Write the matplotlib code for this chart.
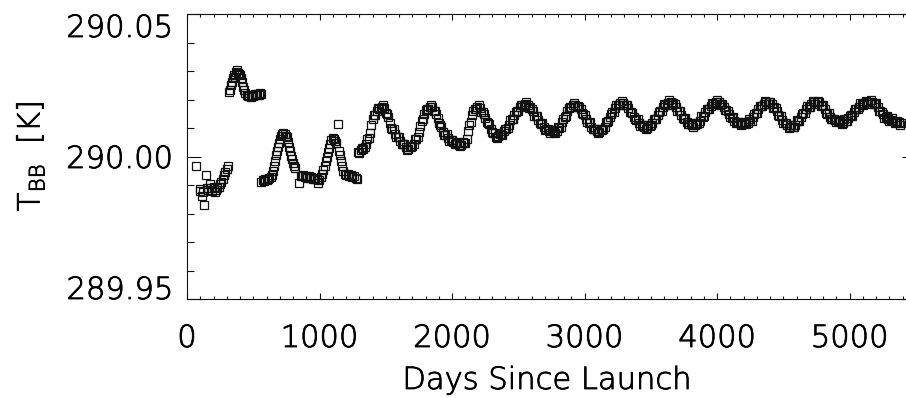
import matplotlib
matplotlib.use("Agg")
import matplotlib.pyplot as plt
import matplotlib.patheffects as pe
from matplotlib.ticker import MultipleLocator

plt.rcParams['font.family'] = ['DejaVu Sans']
plt.rcParams['mathtext.fontset'] = 'custom'
plt.rcParams['mathtext.rm'] = 'DejaVu Sans:light'

# --- blackbody temperature vs days since launch ---
# early part, before the seasonal cycle settles
days_a = [68, 95, 100, 110, 120, 130, 140, 150, 160, 170, 180, 190, 200, 210, 220,
          230, 240, 250, 260, 270, 280, 290, 300, 310]
temp_a = [289.9968, 289.9885, 289.9880, 289.9862, 289.9875, 289.9830, 289.9935, 289.9890,
          289.9882, 289.9905, 289.9888, 289.9878, 289.9892, 289.9877, 289.9884, 289.9890,
          289.9893, 289.9905, 289.9912, 289.9920, 289.9935, 289.9945, 289.9955, 289.9965]

days_b = [318, 325, 332, 340, 348, 355, 362, 370, 378, 385, 392, 400, 408, 416, 424,
          432, 440, 450, 460, 470, 480, 490, 500, 510, 520, 530, 540, 550, 558]
temp_b = [290.0225, 290.0232, 290.0250, 290.0262, 290.0275, 290.0285, 290.0280, 290.0296,
          290.0302, 290.0292, 290.0288, 290.0285, 290.0275, 290.0262, 290.0245, 290.0232,
          290.0222, 290.0215, 290.0212, 290.0214, 290.0210, 290.0216, 290.0213, 290.0218,
          290.0215, 290.0220, 290.0217, 290.0222, 290.0220]

days_c = [562, 572, 582, 592, 602, 612, 622, 632, 640, 648, 656, 664, 672, 680, 688,
          696, 704, 712, 720, 728, 736, 744, 752, 760, 768, 776, 784, 792, 800, 808, 816]
temp_c = [289.9912, 289.9918, 289.9915, 289.9920, 289.9918, 289.9922, 289.9925, 289.9928,
          289.9935, 289.9950, 289.9968, 289.9985, 290.0005, 290.0020, 290.0035, 290.0048,
          290.0060, 290.0072, 290.0080, 290.0083, 290.0078, 290.0072, 290.0068, 290.0050,
          290.0032, 290.0018, 290.0003, 289.9990, 289.9978, 289.9965, 289.9958]

days_d = [848, 858, 868, 878, 888, 898, 908, 918, 928, 938, 948, 958, 968, 978, 988,
          998, 1008, 1018, 1028, 1038, 1048, 1058, 1066, 1074, 1082, 1090, 1098, 1106,
          1114, 1122, 1136, 1146, 1154, 1160, 1168, 1178, 1190, 1200, 1212, 1224, 1236,
          1248, 1260, 1272, 1282]
temp_d = [289.9908, 289.9932, 289.9930, 289.9935, 289.9928, 289.9932, 289.9926, 289.9930,
          289.9925, 289.9928, 289.9922, 289.9925, 289.9920, 289.9922, 289.9906, 289.9918,
          289.9928, 289.9940, 289.9952, 289.9968, 289.9985, 290.0000, 290.0015, 290.0030,
          290.0045, 290.0058, 290.0064, 290.0060, 290.0055, 290.0048, 290.0114, 290.0020,
          290.0004, 289.9985, 289.9965, 289.9948, 289.9940, 289.9935, 289.9938, 289.9930,
          289.9935, 289.9928, 289.9932, 289.9925, 289.9922]

# regular annual cycle
days_e = [1290, 1310, 1330, 1350, 1370, 1390, 1410, 1430, 1450, 1470, 1490, 1510, 1530,
          1550, 1570, 1590, 1610, 1630, 1650, 1670, 1690, 1710, 1730, 1750, 1770, 1790,
          1810, 1830, 1850, 1870, 1890, 1910, 1930, 1950, 1970, 1990, 2010, 2030, 2050,
          2070, 2090, 2110, 2130, 2150, 2170, 2190, 2210, 2230, 2250, 2270, 2290, 2310,
          2330, 2350, 2370, 2390, 2410, 2430, 2450, 2470, 2490, 2510, 2530, 2550, 2570,
          2590, 2610, 2630, 2650, 2670, 2690, 2710, 2730, 2750, 2770, 2790, 2810, 2830,
          2850, 2870, 2890, 2910, 2930, 2950, 2970, 2990, 3010, 3030, 3050, 3070, 3090,
          3110, 3130, 3150, 3170, 3190, 3210, 3230, 3250, 3270, 3290, 3310, 3330, 3350,
          3370, 3390, 3410, 3430, 3450, 3470, 3490, 3510, 3530, 3550, 3570, 3590, 3610,
          3630, 3650, 3670, 3690, 3710, 3730, 3750, 3770, 3790, 3810, 3830, 3850, 3870,
          3890, 3910, 3930, 3950, 3970, 3990, 4010, 4030, 4050, 4070, 4090, 4110, 4130,
          4150, 4170, 4190, 4210, 4230, 4250, 4270, 4290, 4310, 4330, 4350, 4370, 4390,
          4410, 4430, 4450, 4470, 4490, 4510, 4530, 4550, 4570, 4590, 4610, 4630, 4650,
          4670, 4690, 4710, 4730, 4750, 4770, 4790, 4810, 4830, 4850, 4870, 4890, 4910,
          4930, 4950, 4970, 4990, 5010, 5030, 5050, 5070, 5090, 5110, 5130, 5150, 5170,
          5190, 5210, 5230, 5250, 5270, 5290, 5310, 5330, 5350, 5370, 5390]
temp_e = [290.0015, 290.0022, 290.0028, 290.0045, 290.0065, 290.0110, 290.0145, 290.0160,
          290.0168, 290.0175, 290.0170, 290.0150, 290.0118, 290.0098, 290.0080, 290.0068,
          290.0055, 290.0045, 290.0035, 290.0025, 290.0035, 290.0045, 290.0060, 290.0085,
          290.0125, 290.0150, 290.0165, 290.0175, 290.0172, 290.0158, 290.0135, 290.0110,
          290.0085, 290.0075, 290.0065, 290.0058, 290.0052, 290.0048, 290.0042, 290.0040,
          290.0048, 290.0060, 290.0110, 290.0145, 290.0165, 290.0175, 290.0170, 290.0155,
          290.0135, 290.0118, 290.0098, 290.0082, 290.0068, 290.0072, 290.0080, 290.0088,
          290.0095, 290.0110, 290.0130, 290.0145, 290.0160, 290.0172, 290.0180, 290.0184,
          290.0182, 290.0172, 290.0158, 290.0142, 290.0128, 290.0115, 290.0102, 290.0095,
          290.0090, 290.0088, 290.0086, 290.0090, 290.0100, 290.0120, 290.0140, 290.0158,
          290.0172, 290.0180, 290.0182, 290.0176, 290.0165, 290.0150, 290.0132, 290.0118,
          290.0105, 290.0098, 290.0090, 290.0085, 290.0092, 290.0105, 290.0120, 290.0138,
          290.0155, 290.0170, 290.0180, 290.0186, 290.0188, 290.0182, 290.0170, 290.0155,
          290.0140, 290.0128, 290.0118, 290.0110, 290.0105, 290.0100, 290.0108, 290.0118,
          290.0130, 290.0145, 290.0160, 290.0174, 290.0182, 290.0188, 290.0190, 290.0186,
          290.0175, 290.0160, 290.0145, 290.0130, 290.0122, 290.0115, 290.0112, 290.0110,
          290.0115, 290.0125, 290.0140, 290.0155, 290.0168, 290.0178, 290.0185, 290.0190,
          290.0190, 290.0185, 290.0175, 290.0162, 290.0148, 290.0135, 290.0125, 290.0120,
          290.0118, 290.0115, 290.0117, 290.0118, 290.0125, 290.0138, 290.0152, 290.0165,
          290.0176, 290.0185, 290.0190, 290.0190, 290.0184, 290.0172, 290.0158, 290.0142,
          290.0128, 290.0118, 290.0110, 290.0105, 290.0104, 290.0112, 290.0125, 290.0138,
          290.0152, 290.0165, 290.0175, 290.0183, 290.0190, 290.0192, 290.0190, 290.0180,
          290.0166, 290.0150, 290.0140, 290.0132, 290.0128, 290.0125, 290.0120, 290.0118,
          290.0125, 290.0135, 290.0145, 290.0155, 290.0165, 290.0175, 290.0183, 290.0188,
          290.0191, 290.0192, 290.0190, 290.0183, 290.0172, 290.0160, 290.0148, 290.0138,
          290.0132, 290.0128, 290.0124, 290.0122, 290.0120, 290.0118]

# in-between samples of the cycle (the band is scattered by ~0.001 K)
days_e2 = [1300, 1320, 1340, 1360, 1380, 1400, 1420, 1440, 1460, 1480, 1500, 1520, 1540,
           1560, 1580, 1600, 1620, 1640, 1660, 1680, 1700, 1720, 1740, 1760, 1780, 1800,
           1820, 1840, 1860, 1880, 1900, 1920, 1940, 1960, 1980, 2000, 2020, 2040, 2060,
           2080, 2100, 2120, 2140, 2160, 2180, 2200, 2220, 2240, 2260, 2280, 2300, 2320,
           2340, 2360, 2380, 2400, 2420, 2440, 2460, 2480, 2500, 2520, 2540, 2560, 2580,
           2600, 2620, 2640, 2660, 2680, 2700, 2720, 2740, 2760, 2780, 2800, 2820, 2840,
           2860, 2880, 2900, 2920, 2940, 2960, 2980, 3000, 3020, 3040, 3060, 3080, 3100,
           3120, 3140, 3160, 3180, 3200, 3220, 3240, 3260, 3280, 3300, 3320, 3340, 3360,
           3380, 3400, 3420, 3440, 3460, 3480, 3500, 3520, 3540, 3560, 3580, 3600, 3620,
           3640, 3660, 3680, 3700, 3720, 3740, 3760, 3780, 3800, 3820, 3840, 3860, 3880,
           3900, 3920, 3940, 3960, 3980, 4000, 4020, 4040, 4060, 4080, 4100, 4120, 4140,
           4160, 4180, 4200, 4220, 4240, 4260, 4280, 4300, 4320, 4340, 4360, 4380, 4400,
           4420, 4440, 4460, 4480, 4500, 4520, 4540, 4560, 4580, 4600, 4620, 4640, 4660,
           4680, 4700, 4720, 4740, 4760, 4780, 4800, 4820, 4840, 4860, 4880, 4900, 4920,
           4940, 4960, 4980, 5000, 5020, 5040, 5060, 5080, 5100, 5120, 5140, 5160, 5180,
           5200, 5220, 5240, 5260, 5280, 5300, 5320, 5340, 5360, 5380]
temp_e2 = [290.0012, 290.0031, 290.0033, 290.0063, 290.0082, 290.0131, 290.0146, 290.0170,
           290.0168, 290.0180, 290.0154, 290.0137, 290.0101, 290.0095, 290.0070, 290.0070,
           290.0044, 290.0043, 290.0023, 290.0036, 290.0036, 290.0060, 290.0067, 290.0108,
           290.0131, 290.0164, 290.0166, 290.0182, 290.0159, 290.0150, 290.0116, 290.0104,
           290.0076, 290.0078, 290.0056, 290.0058, 290.0043, 290.0051, 290.0037, 290.0052,
           290.0048, 290.0088, 290.0121, 290.0161, 290.0166, 290.0181, 290.0157, 290.0148,
           290.0120, 290.0114, 290.0086, 290.0083, 290.0064, 290.0079, 290.0077, 290.0098,
           290.0099, 290.0128, 290.0132, 290.0156, 290.0159, 290.0182, 290.0178, 290.0191,
           290.0171, 290.0168, 290.0143, 290.0141, 290.0118, 290.0117, 290.0093, 290.0096,
           290.0082, 290.0093, 290.0084, 290.0103, 290.0104, 290.0133, 290.0142, 290.0171,
           290.0172, 290.0189, 290.0173, 290.0174, 290.0151, 290.0147, 290.0121, 290.0120,
           290.0096, 290.0097, 290.0081, 290.0095, 290.0095, 290.0121, 290.0123, 290.0150,
           290.0156, 290.0181, 290.0179, 290.0195, 290.0179, 290.0179, 290.0156, 290.0154,
           290.0130, 290.0131, 290.0108, 290.0111, 290.0096, 290.0110, 290.0109, 290.0132,
           290.0132, 290.0156, 290.0160, 290.0184, 290.0181, 290.0197, 290.0182, 290.0184,
           290.0161, 290.0159, 290.0134, 290.0134, 290.0113, 290.0117, 290.0104, 290.0119,
           290.0116, 290.0141, 290.0142, 290.0165, 290.0166, 290.0188, 290.0184, 290.0198,
           290.0182, 290.0183, 290.0162, 290.0161, 290.0138, 290.0138, 290.0117, 290.0122,
           290.0110, 290.0122, 290.0114, 290.0130, 290.0126, 290.0148, 290.0152, 290.0177,
           290.0177, 290.0196, 290.0184, 290.0190, 290.0171, 290.0171, 290.0146, 290.0143,
           290.0117, 290.0117, 290.0101, 290.0111, 290.0104, 290.0127, 290.0126, 290.0148,
           290.0152, 290.0176, 290.0175, 290.0195, 290.0185, 290.0194, 290.0178, 290.0179,
           290.0154, 290.0153, 290.0130, 290.0133, 290.0120, 290.0129, 290.0115, 290.0130,
           290.0124, 290.0143, 290.0143, 290.0166, 290.0166, 290.0187, 290.0180, 290.0193,
           290.0185, 290.0197, 290.0183, 290.0186, 290.0160, 290.0157, 290.0136, 290.0141,
           290.0126, 290.0134, 290.0117, 290.0124, 290.0112]

ytick_vals = [289.95, 290.00, 290.05]
ytick_labels = ["289.95", "290.00", "290.05"]
xtick_vals = [0, 1000, 2000, 3000, 4000, 5000]

fig = plt.figure(figsize=(9.06, 3.98), dpi=100)
# right edge of the frame sits just outside the picture, as in the reference
ax = fig.add_axes([187 / 906, 1 - 299 / 398, 729 / 906, 285 / 398])

for d, t in [(days_a, temp_a), (days_b, temp_b), (days_c, temp_c),
             (days_d, temp_d), (days_e, temp_e), (days_e2, temp_e2)]:
    ax.plot(d, t, ls="none", marker="s", ms=5.4, mfc="none",
            mec="#111111", mew=0.9)

ax.set_xlim(0, 5500)
ax.set_ylim(289.95, 290.05)
ax.set_xticks(xtick_vals)
ax.set_yticks(ytick_vals)
ax.set_yticklabels(ytick_labels)
ax.xaxis.set_minor_locator(MultipleLocator(100))
ax.yaxis.set_minor_locator(MultipleLocator(0.01))

ax.tick_params(axis="both", which="both", direction="in", top=True, right=True,
               colors="#111111", width=0.8)
ax.tick_params(axis="x", which="major", length=4.3, pad=18)
ax.tick_params(axis="x", which="minor", length=2.2)
ax.tick_params(axis="y", which="major", length=10, pad=10)
ax.tick_params(axis="y", which="minor", length=5)

# thin IDL-like lettering: light face with a slight black outline
thin = [pe.withStroke(linewidth=0.6, foreground="black")]
for lab in ax.get_xticklabels() + ax.get_yticklabels():
    lab.set_fontsize(22)
    lab.set_fontweight("light")
    lab.set_color("black")
    lab.set_path_effects(thin)

ylabs = ax.get_yticklabels()
ylabs[0].set_va("baseline")
ylabs[2].set_va("top")

for s in ax.spines.values():
    s.set_linewidth(0.8)
    s.set_color("#111111")

ax.set_xlabel("Days Since Launch", fontsize=22, fontweight="light", color="black",
              path_effects=thin)
ax.xaxis.set_label_coords(0.5 * 720 / 729, -0.235)
ax.set_ylabel(r"T$_{\rm BB}$  [K]", fontsize=22, fontweight="light", color="black",
              path_effects=thin)
ax.yaxis.set_label_coords(-0.195 * 720 / 729, 0.5)

fig.savefig("out.png", dpi=100)
